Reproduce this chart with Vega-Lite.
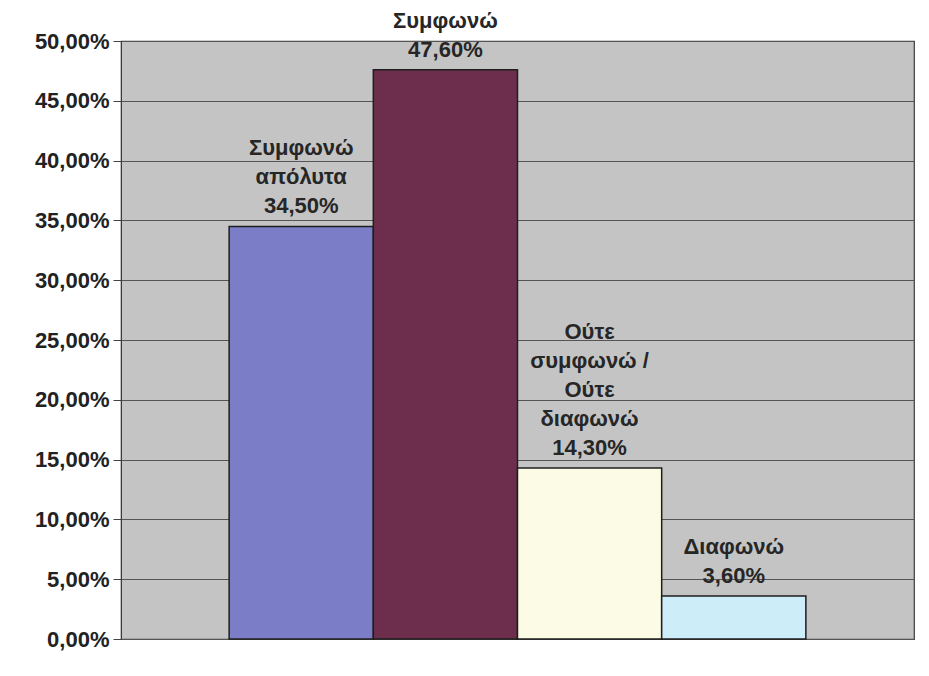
{
  "$schema": "https://vega.github.io/schema/vega-lite/v6.json",
  "width": 793,
  "height": 598,
  "autosize": {"type": "none"},
  "padding": {"left": 121, "top": 41, "right": 15, "bottom": 37},
  "background": "#ffffff",
  "config": {
    "view": {"fill": "#c4c4c4", "stroke": "#3a3a3a", "strokeWidth": 1.2},
    "font": "Liberation Sans",
    "text": {"baseline": "bottom", "align": "center", "fontSize": 22, "fontWeight": "bold", "font": "Liberation Sans", "color": "#262626"}
  },
  "data": {
    "values": [
      {"cat": "Συμφωνώ απόλυτα", "label": "Συμφωνώ|απόλυτα", "value": 0.345, "color": "c1"},
      {"cat": "Συμφωνώ", "label": "Συμφωνώ", "value": 0.476, "color": "c2"},
      {"cat": "Ούτε συμφωνώ / Ούτε διαφωνώ", "label": "Ούτε|συμφωνώ /|Ούτε|διαφωνώ", "value": 0.143, "color": "c3"},
      {"cat": "Διαφωνώ", "label": "Διαφωνώ", "value": 0.036, "color": "c4"}
    ]
  },
  "transform": [
    {"calculate": "split(datum.label + '|' + replace(format(datum.value, '.2%'), '.', ','), '|')", "as": "lines"},
    {"calculate": "length(datum.lines)", "as": "n"}
  ],
  "encoding": {
    "x": {
      "field": "cat",
      "type": "nominal",
      "sort": null,
      "scale": {"paddingInner": 0, "paddingOuter": 0.75},
      "axis": null
    },
    "y": {
      "field": "value",
      "type": "quantitative",
      "scale": {"domain": [0, 0.5], "nice": false},
      "axis": {
        "values": [0, 0.05, 0.1, 0.15, 0.2, 0.25, 0.3, 0.35, 0.4, 0.45, 0.5],
        "labelExpr": "replace(format(datum.value, '.2%'), '.', ',')",
        "title": null,
        "labelFont": "Liberation Sans",
        "labelFontSize": 22,
        "labelFontWeight": "bold",
        "labelColor": "#222222",
        "labelPadding": 4,
        "tickSize": 8,
        "tickColor": "#444444",
        "domainColor": "#3a3a3a",
        "grid": true,
        "gridColor": "#555555",
        "gridWidth": 1
      }
    }
  },
  "layer": [
    {
      "mark": {"type": "bar", "stroke": "#1e1e1e", "strokeWidth": 1.5},
      "encoding": {
        "color": {
          "field": "color",
          "type": "nominal",
          "scale": {"domain": ["c1", "c2", "c3", "c4"], "range": ["#7b7ec6", "#6c2e4c", "#fcfce6", "#cdeef8"]},
          "legend": null
        }
      }
    },
    {
      "transform": [{"calculate": "datum.lines[datum.n - 1]", "as": "t"}],
      "mark": {"type": "text", "dy": -8},
      "encoding": {"text": {"field": "t"}}
    },
    {
      "transform": [{"filter": "datum.n > 1"}, {"calculate": "datum.lines[datum.n - 2]", "as": "t"}],
      "mark": {"type": "text", "dy": -37},
      "encoding": {"text": {"field": "t"}}
    },
    {
      "transform": [{"filter": "datum.n > 2"}, {"calculate": "datum.lines[datum.n - 3]", "as": "t"}],
      "mark": {"type": "text", "dy": -66},
      "encoding": {"text": {"field": "t"}}
    },
    {
      "transform": [{"filter": "datum.n > 3"}, {"calculate": "datum.lines[datum.n - 4]", "as": "t"}],
      "mark": {"type": "text", "dy": -95},
      "encoding": {"text": {"field": "t"}}
    },
    {
      "transform": [{"filter": "datum.n > 4"}, {"calculate": "datum.lines[datum.n - 5]", "as": "t"}],
      "mark": {"type": "text", "dy": -124},
      "encoding": {"text": {"field": "t"}}
    }
  ]
}
